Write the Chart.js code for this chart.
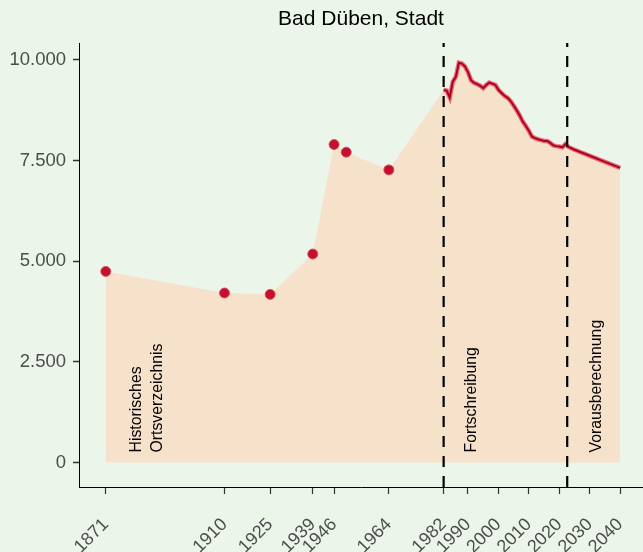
<!DOCTYPE html>
<html lang="de">
<head>
  <meta charset="UTF-8" />
  <title>Bad Düben, Stadt</title>
  <style>
    html, body { margin: 0; padding: 0; background: #ecf5ea; }
    #wrap { width: 643px; height: 552px; position: relative; }
  </style>
</head>
<body>
  <div id="wrap"><canvas id="chart"></canvas></div>

  <script src="https://cdn.jsdelivr.net/npm/chart.js"></script>
  <script>
    // Historische Zählungen (Ortsverzeichnis)
    const histYears = [1871, 1910, 1925, 1939, 1946, 1950, 1964];
    const histValues = [4747, 4211, 4177, 5179, 7899, 7710, 7270];

    // Fortschreibung 1982-2022
    const fortYears = [1982, 1983, 1984, 1985, 1986, 1987, 1988, 1989, 1990, 1991,
      1992, 1993, 1994, 1995, 1996, 1997, 1998, 1999, 2000, 2001,
      2002, 2003, 2004, 2005, 2006, 2007, 2008, 2009, 2010, 2011,
      2012, 2013, 2014, 2015, 2016, 2017, 2018, 2019, 2020, 2021, 2022];
    const fortValues = [9256, 9240, 9070, 9460, 9580, 9930, 9910, 9840, 9700, 9500,
      9430, 9400, 9360, 9300, 9380, 9440, 9410, 9380, 9260, 9180,
      9110, 9060, 8980, 8870, 8750, 8620, 8470, 8360, 8240, 8100,
      8060, 8030, 8010, 7990, 7990, 7940, 7880, 7860, 7850, 7830, 7910];

    // Vorausberechnung 2023-2040
    const prognoseYears = [2023, 2025, 2030, 2035, 2040];
    const prognoseValues = [7840, 7770, 7620, 7470, 7320];

    // Achsen
    const xTickYears = [1871, 1910, 1925, 1939, 1946, 1964, 1982, 1990, 2000, 2010, 2020, 2030, 2040];
    const yTickValues = [0, 2500, 5000, 7500, 10000];
    const phaseBreaks = [1982, 2022.6];

    // Beschriftungen der Abschnitte
    const titleText = 'Bad Düben, Stadt';
    const phaseLabels = ['Historisches\nOrtsverzeichnis', 'Fortschreibung', 'Vorausberechnung'];
    const phaseLabelYears = [1884.5, 1991.3, 2032.4];

    const toPoints = (xs, ys) => xs.map((x, i) => ({ x: x, y: ys[i] }));
    const histPts = toPoints(histYears, histValues);
    const linePts = toPoints(fortYears, fortValues).concat(toPoints(prognoseYears, prognoseValues));

    const yMin = -608, yMax = 10422;
    const fontFam = '"Liberation Sans", Arial, sans-serif';

    function formatDE(v) {
      return String(v).replace(/\B(?=(\d{3})+(?!\d))/g, '.');
    }

    const bgPlugin = {
      id: 'bg',
      beforeDraw(chart) {
        const c = chart.ctx;
        c.save();
        c.fillStyle = '#ecf5ea';
        c.fillRect(0, 0, chart.width, chart.height);
        c.restore();
      }
    };

    // Titel mittig über der Plotfläche, Abschnittsbeschriftungen senkrecht
    const labelPlugin = {
      id: 'phaseLabels',
      afterDatasetsDraw(chart) {
        const c = chart.ctx;
        const xs = chart.scales.x, ys = chart.scales.y;
        const area = chart.chartArea;
        c.save();
        c.font = '21px ' + fontFam;
        c.fillStyle = '#000';
        c.textAlign = 'center';
        c.textBaseline = 'middle';
        c.fillText(titleText, (area.left + area.right) / 2, 19);

        c.font = '15.8px ' + fontFam;
        c.textAlign = 'left';
        phaseLabels.forEach((txt, i) => {
          const lines = txt.split('\n');
          const px = xs.getPixelForValue(phaseLabelYears[i]);
          const py = ys.getPixelForValue(250);
          lines.forEach((ln, j) => {
            const off = (j - (lines.length - 1) / 2) * 21;
            c.save();
            c.translate(px + off, py);
            c.rotate(-Math.PI / 2);
            c.fillText(ln, 0, 0);
            c.restore();
          });
        });
        c.restore();
      }
    };

    new Chart(document.getElementById('chart'), {
      type: 'scatter',
      data: {
        datasets: [
          {
            data: histPts.concat(linePts),
            showLine: true,
            fill: 'origin',
            backgroundColor: '#f6e2cb',
            borderWidth: 0,
            pointRadius: 0,
            order: 5
          },
          {
            data: linePts,
            showLine: true,
            borderColor: 'rgba(222, 90, 105, 0.85)',
            borderWidth: 4.5,
            pointRadius: 0,
            order: 4
          },
          {
            data: linePts,
            showLine: true,
            borderColor: '#b0001f',
            borderWidth: 2,
            pointRadius: 0,
            order: 3
          },
          {
            data: histPts,
            showLine: false,
            pointRadius: 5,
            pointBackgroundColor: '#c4102e',
            pointBorderColor: 'rgba(214, 80, 92, 0.9)',
            pointBorderWidth: 1,
            order: 2
          },
          ...phaseBreaks.map(b => ({
            data: [{ x: b, y: yMin }, { x: b, y: yMax }],
            showLine: true,
            borderColor: '#000',
            borderWidth: 2.2,
            borderDash: [11, 9],
            pointRadius: 0,
            order: 1
          }))
        ]
      },
      options: {
        responsive: true,
        maintainAspectRatio: false,
        animation: false,
        layout: { autoPadding: false, padding: { top: 43, left: 0, right: 0, bottom: 0 } },
        plugins: {
          legend: { display: false },
          tooltip: { enabled: false },
          title: { display: false }
        },
        scales: {
          x: {
            type: 'linear',
            min: 1862.2,
            max: 2047.5,
            afterBuildTicks(scale) {
              scale.ticks = xTickYears.map(v => ({ value: v }));
            },
            afterFit(scale) {
              scale.height = 65;
              scale.paddingLeft = 0;
              scale.paddingRight = 0;
            },
            ticks: {
              autoSkip: false,
              minRotation: 45,
              maxRotation: 45,
              padding: 20,
              color: '#4d4d4d',
              font: { size: 18, family: fontFam },
              callback: v => String(v)
            },
            grid: { drawOnChartArea: false, tickLength: 7, color: '#333', tickWidth: 1.2 },
            border: { display: true, color: '#000', width: 1 }
          },
          y: {
            min: yMin,
            max: yMax,
            afterBuildTicks(scale) {
              scale.ticks = yTickValues.map(v => ({ value: v }));
            },
            afterFit(scale) {
              scale.width = 79;
              scale.paddingTop = 0;
              scale.paddingBottom = 0;
            },
            ticks: {
              padding: 7,
              color: '#4d4d4d',
              font: { size: 18.5, family: fontFam },
              callback: v => formatDE(v)
            },
            grid: { drawOnChartArea: false, tickLength: 6, color: '#333', tickWidth: 1.5 },
            border: { display: true, color: '#000', width: 1 }
          }
        }
      },
      plugins: [bgPlugin, labelPlugin]
    });
  </script>
</body>
</html>
